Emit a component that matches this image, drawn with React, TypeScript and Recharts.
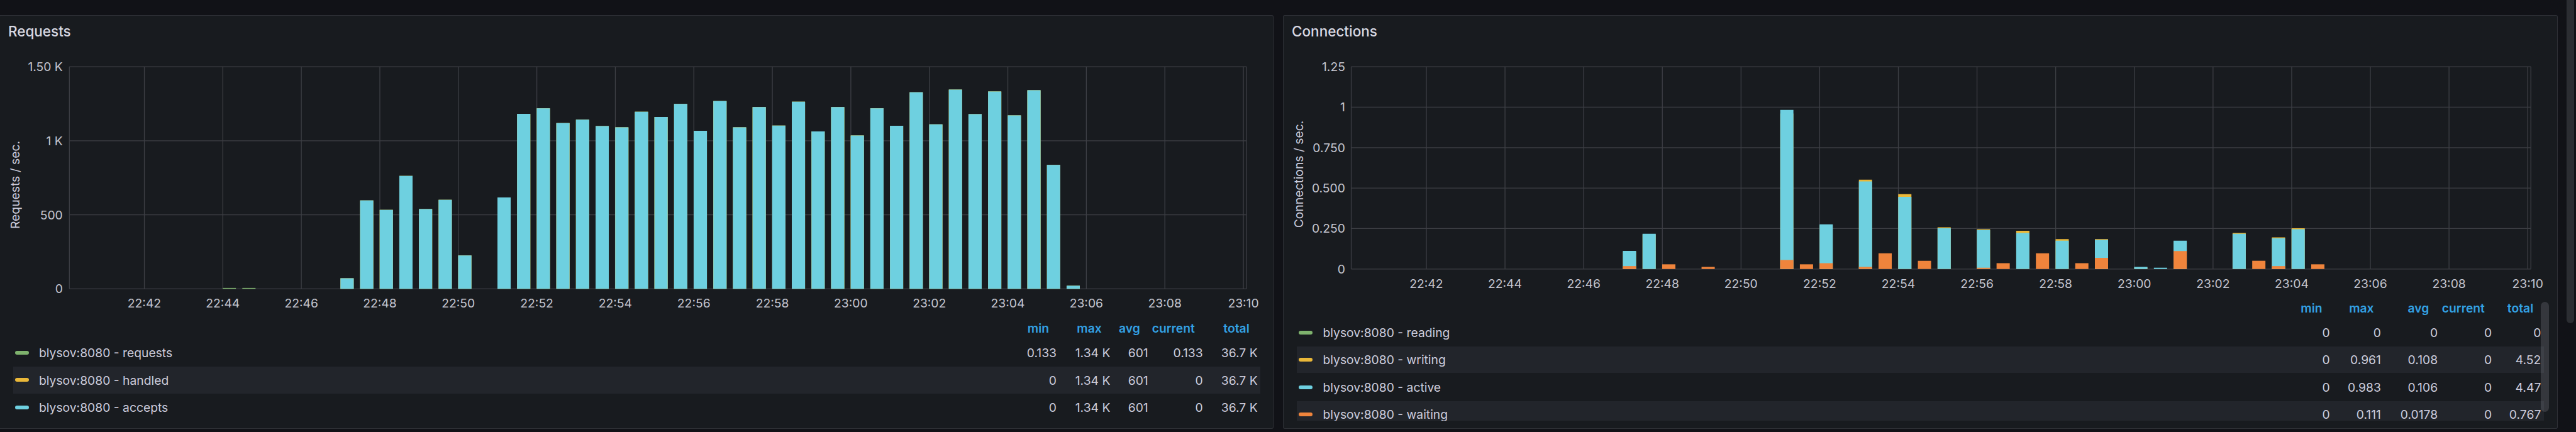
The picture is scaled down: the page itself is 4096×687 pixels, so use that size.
import React from "react";
import { Bar, BarChart, CartesianGrid, XAxis, YAxis } from "recharts";

// --- data (30 s buckets) ---
const requestTimes = [
  "22:44:10", "22:44:40",
  "22:47:10", "22:47:40", "22:48:10", "22:48:40", "22:49:10", "22:49:40", "22:50:10", "22:50:40",
  "22:51:10", "22:51:40", "22:52:10", "22:52:40", "22:53:10", "22:53:40", "22:54:10", "22:54:40",
  "22:55:10", "22:55:40", "22:56:10", "22:56:40", "22:57:10", "22:57:40", "22:58:10", "22:58:40",
  "22:59:10", "22:59:40", "23:00:10", "23:00:40", "23:01:10", "23:01:40", "23:02:10", "23:02:40",
  "23:03:10", "23:03:40", "23:04:10", "23:04:40", "23:05:10", "23:05:40",
];
const requestsSeries = [
  6, 6,
  71, 597, 533, 763, 539, 601, 225, 0,
  617, 1182, 1219, 1119, 1143, 1099, 1091, 1196,
  1161, 1249, 1067, 1268, 1091, 1228, 1102, 1264,
  1063, 1228, 1035, 1219, 1101, 1327, 1111, 1345,
  1180, 1333, 1171, 1341, 837, 21,
];
const handledSeries = [
  0, 0,
  71, 597, 533, 763, 539, 601, 225, 0,
  617, 1182, 1219, 1119, 1143, 1099, 1091, 1196,
  1161, 1249, 1067, 1268, 1091, 1228, 1102, 1264,
  1063, 1228, 1035, 1219, 1101, 1327, 1111, 1345,
  1180, 1333, 1171, 1341, 837, 21,
];
const acceptsSeries = [
  0, 0,
  71, 597, 533, 763, 539, 601, 225, 0,
  617, 1182, 1219, 1119, 1143, 1099, 1091, 1196,
  1161, 1249, 1067, 1268, 1091, 1228, 1102, 1264,
  1063, 1228, 1035, 1219, 1101, 1327, 1111, 1345,
  1180, 1333, 1171, 1341, 837, 21,
];

const connectionTimes = [
  "22:47:10", "22:47:40", "22:48:10", "22:48:40", "22:49:10", "22:49:40", "22:50:10", "22:50:40",
  "22:51:10", "22:51:40", "22:52:10", "22:52:40", "22:53:10", "22:53:40", "22:54:10", "22:54:40",
  "22:55:10", "22:55:40", "22:56:10", "22:56:40", "22:57:10", "22:57:40", "22:58:10", "22:58:40",
  "22:59:10", "22:59:40", "23:00:10", "23:00:40", "23:01:10", "23:01:40", "23:02:10", "23:02:40",
  "23:03:10", "23:03:40", "23:04:10", "23:04:40",
];
const readingSeries = [
  0, 0, 0, 0, 0, 0, 0, 0, 0, 0, 0, 0, 0, 0, 0, 0, 0, 0,
  0, 0, 0, 0, 0, 0, 0, 0, 0, 0, 0, 0, 0, 0, 0, 0, 0, 0,
];
const writingSeries = [
  0.108, 0.214, 0, 0, 0, 0, 0, 0,
  0.961, 0, 0.27, 0, 0.552, 0, 0.463, 0,
  0.258, 0, 0.246, 0, 0.236, 0, 0.185, 0,
  0.185, 0, 0.01, 0, 0.17, 0, 0, 0.223,
  0, 0.195, 0.252, 0,
];
const activeSeries = [
  0.112, 0.218, 0, 0, 0, 0, 0, 0,
  0.983, 0, 0.276, 0, 0.541, 0, 0.446, 0,
  0.252, 0, 0.241, 0, 0.223, 0, 0.175, 0,
  0.18, 0, 0.013, 0.008, 0.175, 0, 0, 0.218,
  0, 0.19, 0.246, 0,
];
const waitingSeries = [
  0.018, 0, 0.029, 0, 0.013, 0, 0, 0,
  0.056, 0.029, 0.036, 0, 0.013, 0.097, 0, 0.051,
  0, 0, 0.008, 0.036, 0, 0.097, 0, 0.036,
  0.069, 0, 0, 0, 0.111, 0, 0, 0,
  0.051, 0.018, 0, 0.029,
];

const timeTicks = [
  "22:42", "22:44", "22:46", "22:48", "22:50", "22:52", "22:54", "22:56",
  "22:58", "23:00", "23:02", "23:04", "23:06", "23:08", "23:10",
];
const requestTicks = [0, 500, 1000, 1500];
const requestTickLabels = ["0", "500", "1 K", "1.50 K"];
const connectionTicks = [0, 0.25, 0.5, 0.75, 1, 1.25];
const connectionTickLabels = ["0", "0.250", "0.500", "0.750", "1", "1.25"];

const statHeaders = ["min", "max", "avg", "current", "total"];
const requestNames = ["blysov:8080 - requests", "blysov:8080 - handled", "blysov:8080 - accepts"];
const requestStats = [
  ["0.133", "1.34 K", "601", "0.133", "36.7 K"],
  ["0", "1.34 K", "601", "0", "36.7 K"],
  ["0", "1.34 K", "601", "0", "36.7 K"],
];
const connectionNames = [
  "blysov:8080 - reading",
  "blysov:8080 - writing",
  "blysov:8080 - active",
  "blysov:8080 - waiting",
];
const connectionStats = [
  ["0", "0", "0", "0", "0"],
  ["0", "0.961", "0.108", "0", "4.52"],
  ["0", "0.983", "0.106", "0", "4.47"],
  ["0", "0.111", "0.0178", "0", "0.767"],
];

const GREEN = "#7EB26D";
const YELLOW = "#EAB839";
const CYAN = "#6ED0E0";
const ORANGE = "#EF843C";
const FONT = "Inter, 'Noto Sans', sans-serif";
const TEXT = "#ccccdc";
const TICK = "#c4c5cf";
const GRID = "#3d3f45";
const BLUE = "#33a2e5";

const toMinutes = (s: string) => {
  const [h, m, sec = 0] = s.split(":").map(Number);
  return (h - 22) * 60 + m + sec / 60;
};
const fmtTime = (v: number) => {
  const h = 22 + Math.floor(v / 60);
  const m = Math.round(v % 60);
  return `${h}:${m < 10 ? "0" + m : m}`;
};

const requestData = requestTimes.map((t, i) => ({
  t: toMinutes(t),
  requests: requestsSeries[i],
  handled: handledSeries[i],
  accepts: acceptsSeries[i],
}));
const connectionData = connectionTimes.map((t, i) => ({
  t: toMinutes(t),
  reading: readingSeries[i],
  writing: writingSeries[i],
  active: activeSeries[i],
  waiting: waitingSeries[i],
}));

type ChartProps = {
  left: number;
  top: number;
  width: number;
  height: number;
  plotLeft: number;
  plotRight: number;
  plotTop: number;
  plotBottom: number;
  data: any[];
  series: { key: string; color: string }[];
  yTicks: number[];
  yLabels: string[];
  yGap: number;
};

function TimeBars(p: ChartProps) {
  const yMax = p.yTicks[p.yTicks.length - 1];
  return (
    <div style={{ position: "absolute", left: p.left, top: p.top }}>
      <BarChart
        width={p.width}
        height={p.height}
        data={p.data}
        margin={{ top: p.plotTop - p.top, right: p.left + p.width - p.plotRight, left: 0, bottom: 0 }}
        barSize={21}
        barGap={-21}
      >
        <CartesianGrid stroke={GRID} strokeWidth={1.3} />
        <XAxis
          dataKey="t"
          type="number"
          domain={[40.09, 70.08]}
          ticks={timeTicks.map(toMinutes)}
          interval={0}
          height={p.top + p.height - p.plotBottom}
          axisLine={false}
          tickLine={false}
          tickSize={0}
          tickMargin={0}
          tick={(t: any) => (
            <text
              x={t.x}
              y={t.y + 23}
              textAnchor="middle"
              dominantBaseline="central"
              fill={TICK}
              fontSize={19.3}
              fontFamily={FONT}
            >
              {fmtTime(t.payload.value)}
            </text>
          )}
        />
        <YAxis
          type="number"
          domain={[0, yMax]}
          ticks={p.yTicks}
          interval={0}
          width={p.plotLeft - p.left}
          axisLine={false}
          tickLine={false}
          tickSize={0}
          tickMargin={p.yGap}
          tick={(t: any) => (
            <text
              x={t.x}
              y={t.y}
              textAnchor="end"
              dominantBaseline="central"
              fill={TICK}
              fontSize={19.3}
              fontFamily={FONT}
            >
              {p.yLabels[p.yTicks.indexOf(t.payload.value)]}
            </text>
          )}
        />
        {p.series.map((s) => (
          <Bar key={s.key} dataKey={s.key} fill={s.color} isAnimationActive={false} />
        ))}
      </BarChart>
    </div>
  );
}

function Txt({
  x,
  cy,
  size = 19.3,
  color = TEXT,
  weight = 400,
  align = "left",
  children,
}: {
  x: number;
  cy: number;
  size?: number;
  color?: string;
  weight?: number;
  align?: "left" | "right";
  children: React.ReactNode;
}) {
  const w = 300;
  return (
    <div
      style={{
        position: "absolute",
        left: align === "left" ? x : x - w,
        width: w,
        top: cy - size / 2,
        height: size,
        lineHeight: `${size}px`,
        fontSize: size,
        fontFamily: FONT,
        fontWeight: weight,
        color,
        textAlign: align,
        whiteSpace: "nowrap",
      }}
    >
      {children}
    </div>
  );
}

function Legend({
  headerY,
  rowY,
  rowH,
  swatchX,
  nameX,
  hlLeft,
  hlRight,
  headerRight,
  valueRight,
  names,
  colors,
  stats,
}: {
  headerY: number;
  rowY: number[];
  rowH: number;
  swatchX: number;
  nameX: number;
  hlLeft: number;
  hlRight: number;
  headerRight: number[];
  valueRight: number[];
  names: string[];
  colors: string[];
  stats: string[][];
}) {
  return (
    <>
      {statHeaders.map((h, i) => (
        <Txt key={h} x={headerRight[i]} cy={headerY} color={BLUE} weight={600} align="right">
          {h}
        </Txt>
      ))}
      {names.map((n, r) => (
        <React.Fragment key={n}>
          {r % 2 === 1 && (
            <div
              style={{
                position: "absolute",
                left: hlLeft,
                width: hlRight - hlLeft,
                top: rowY[r] - rowH / 2,
                height: rowH,
                background: "#22252b",
              }}
            />
          )}
          <div
            style={{
              position: "absolute",
              left: swatchX,
              top: rowY[r] - 3,
              width: 21.7,
              height: 6,
              borderRadius: 3,
              background: colors[r],
            }}
          />
          <Txt x={nameX} cy={rowY[r] + 1}>
            {n}
          </Txt>
          {stats[r].map((v, c) => (
            <Txt key={c} x={valueRight[c]} cy={rowY[r] + 1} align="right">
              {v}
            </Txt>
          ))}
        </React.Fragment>
      ))}
    </>
  );
}

function YLabel({ x, y, children }: { x: number; y: number; children: React.ReactNode }) {
  return (
    <div
      style={{
        position: "absolute",
        left: x,
        top: y,
        transform: "translate(-50%, -50%) rotate(-90deg)",
        fontSize: 19.3,
        lineHeight: "19.3px",
        fontFamily: FONT,
        color: TEXT,
        whiteSpace: "nowrap",
      }}
    >
      {children}
    </div>
  );
}

const panelStyle = (left: number, width: number): React.CSSProperties => ({
  position: "absolute",
  left,
  top: 24.2,
  width,
  height: 658.2,
  boxSizing: "border-box",
  background: "#181b1f",
  border: "1px solid rgba(204,204,220,0.12)",
  borderRadius: 3,
});

export default function App() {
  return (
    <div
      style={{
        position: "relative",
        width: 4096,
        height: 687,
        background: "#111217",
        overflow: "hidden",
      }}
    >
      <style>{`body{margin:0;background:#111217;}`}</style>

      {/* Requests panel */}
      <div style={panelStyle(-2, 2027)} />
      <Txt x={12.9} cy={50.3} size={22.5} weight={500} color="#d8d9e3">
        Requests
      </Txt>
      <YLabel x={25.4} y={293.8}>
        Requests / sec.
      </YLabel>
      <TimeBars
        left={0}
        top={80}
        width={2025}
        height={430}
        plotLeft={110.3}
        plotRight={1982}
        plotTop={106.1}
        plotBottom={459.3}
        data={requestData}
        series={[
          { key: "requests", color: GREEN },
          { key: "handled", color: YELLOW },
          { key: "accepts", color: CYAN },
        ]}
        yTicks={requestTicks}
        yLabels={requestTickLabels}
        yGap={10.5}
      />
      <Legend
        headerY={522.4}
        rowY={[560.7, 604.2, 647.7]}
        rowH={42.7}
        swatchX={24}
        nameX={62}
        hlLeft={20.9}
        hlRight={2003.6}
        headerRight={[1668, 1751.7, 1812.9, 1899.8, 1986.7]}
        valueRight={[1680, 1765.4, 1825.7, 1912.7, 1999.6]}
        names={requestNames}
        colors={[GREEN, YELLOW, CYAN]}
        stats={requestStats}
      />

      {/* Connections panel */}
      <div style={panelStyle(2040, 2026.6)} />
      <Txt x={2054} cy={50.3} size={22.5} weight={500} color="#d8d9e3">
        Connections
      </Txt>
      <YLabel x={2066.2} y={277.3}>
        Connections / sec.
      </YLabel>
      <TimeBars
        left={2040}
        top={80}
        width={2026}
        height={400}
        plotLeft={2148.5}
        plotRight={4024.2}
        plotTop={106.1}
        plotBottom={427.8}
        data={connectionData}
        series={[
          { key: "reading", color: GREEN },
          { key: "writing", color: YELLOW },
          { key: "active", color: CYAN },
          { key: "waiting", color: ORANGE },
        ]}
        yTicks={connectionTicks}
        yLabels={connectionTickLabels}
        yGap={9.6}
      />
      <div
        style={{
          position: "absolute",
          left: 0,
          top: 470,
          width: 4096,
          height: 199,
          overflow: "hidden",
        }}
      >
        <div style={{ position: "absolute", left: 0, top: -470, width: 4096, height: 687 }}>
          <Legend
            headerY={490.2}
            rowY={[528.5, 572, 615.5, 659]}
            rowH={42.7}
            swatchX={2065.4}
            nameX={2103.5}
            hlLeft={2061.6}
            hlRight={4045}
            headerRight={[3692.5, 3774.6, 3862.4, 3950.9, 4028.2]}
            valueRight={[3704.6, 3785.9, 3876.1, 3962.2, 4040.3]}
            names={connectionNames}
            colors={[GREEN, YELLOW, CYAN, ORANGE]}
            stats={connectionStats}
          />
        </div>
      </div>
      <div
        style={{
          position: "absolute",
          left: 4040.3,
          top: 479.8,
          width: 12.9,
          height: 175.5,
          borderRadius: 7,
          background: "rgba(204,204,220,0.16)",
        }}
      />
      {/* page scrollbar */}
      <div
        style={{
          position: "absolute",
          left: 4080.5,
          top: -10,
          width: 12.9,
          height: 524,
          borderRadius: 7,
          background: "#2b2d32",
        }}
      />
    </div>
  );
}
